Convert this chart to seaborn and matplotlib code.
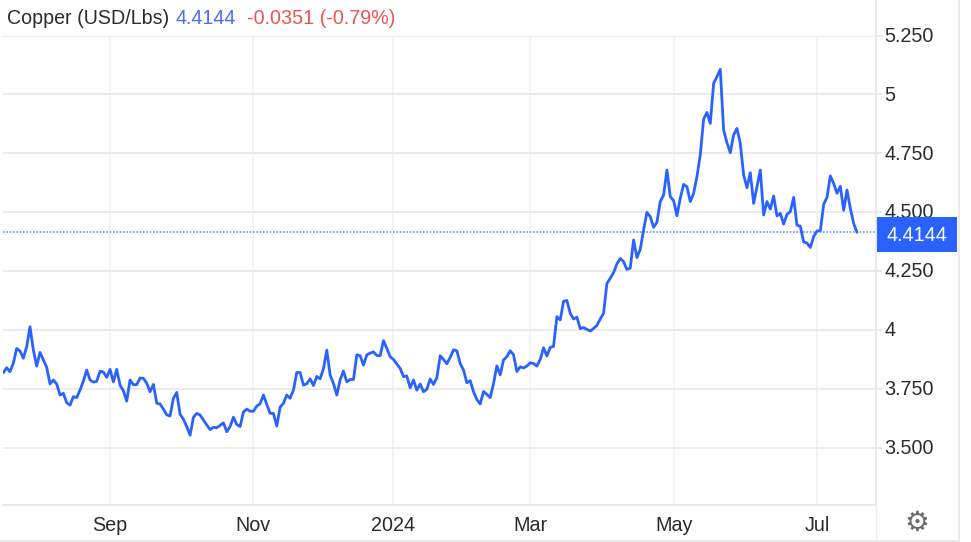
import numpy as np
import pandas as pd
import matplotlib
matplotlib.use("Agg")
import matplotlib.pyplot as plt
from matplotlib.lines import Line2D
from matplotlib.patches import Rectangle
from matplotlib.transforms import blended_transform_factory, ScaledTranslation
import seaborn as sns

# Daily copper close, USD/Lbs
prices_2023_h2 = [
    3.818, 3.839, 3.822, 3.858, 3.921, 3.910, 3.879, 3.928, 4.013, 3.914,
    3.846, 3.904, 3.872, 3.841, 3.770, 3.787, 3.770, 3.723, 3.730, 3.690,
    3.680, 3.716, 3.712, 3.744, 3.782, 3.829, 3.787, 3.778, 3.781, 3.824,
    3.821, 3.798, 3.832, 3.779, 3.832, 3.765, 3.741, 3.697, 3.787, 3.767,
    3.767, 3.795, 3.794, 3.773, 3.737, 3.768, 3.688, 3.685, 3.663, 3.639,
    3.634, 3.709, 3.734, 3.641, 3.620, 3.589, 3.552, 3.628, 3.645, 3.638,
    3.617, 3.596, 3.576, 3.586, 3.584, 3.594, 3.605, 3.567, 3.589, 3.629,
    3.598, 3.589, 3.651, 3.663, 3.654, 3.654, 3.676, 3.686, 3.723, 3.683,
    3.645, 3.645, 3.591, 3.671, 3.688, 3.723, 3.709, 3.744, 3.819, 3.819,
    3.765, 3.771, 3.792, 3.763, 3.802, 3.792, 3.835, 3.914, 3.808,
]
prices_winter = [
    3.772, 3.723, 3.787, 3.825, 3.779, 3.789, 3.789, 3.894, 3.890, 3.850,
    3.894, 3.901, 3.906, 3.891, 3.890, 3.954, 3.921, 3.886, 3.874, 3.855,
    3.836, 3.801, 3.804, 3.754, 3.787, 3.744, 3.770, 3.737, 3.747, 3.791,
    3.768, 3.796, 3.890, 3.874, 3.856, 3.883, 3.915, 3.911, 3.857, 3.829,
    3.775, 3.784, 3.737, 3.704, 3.685, 3.738, 3.726, 3.712, 3.772, 3.847,
    3.809, 3.872, 3.886, 3.911, 3.894, 3.823, 3.843, 3.838, 3.846, 3.860,
    3.857, 3.846, 3.874, 3.924, 3.889, 3.925, 3.930, 4.056, 4.042, 4.121,
    4.125, 4.070, 4.046, 4.054, 4.005, 4.010, 4.002, 3.995, 4.006, 4.019,
    4.046, 4.071, 4.197,
]
prices_spring = [
    4.219, 4.243, 4.280, 4.303, 4.290, 4.257, 4.262, 4.382, 4.307, 4.342,
    4.425, 4.499, 4.481, 4.436, 4.457, 4.545, 4.573, 4.679, 4.566, 4.549,
    4.485, 4.559, 4.618, 4.608, 4.545, 4.580, 4.651,
]
prices_summer = [
    4.743, 4.895, 4.924, 4.877, 5.047, 5.076, 5.107, 4.849, 4.795, 4.753,
    4.828, 4.856, 4.792, 4.658, 4.604, 4.668, 4.537, 4.608, 4.679, 4.488,
    4.545, 4.513, 4.569, 4.484, 4.495, 4.449, 4.491, 4.502, 4.563, 4.445,
    4.440, 4.373, 4.369, 4.350, 4.396, 4.420, 4.421, 4.533, 4.563, 4.654,
    4.622, 4.580, 4.610, 4.508, 4.594, 4.516, 4.452, 4.4144,
]
month_labels = ["Sep", "Nov", "2024", "Mar", "May", "Jul"]
month_sessions = [32, 75, 117, 158, 201, 244]
price_ticks = [3.5, 3.75, 4, 4.25, 4.5, 4.75, 5, 5.25]
price_tick_labels = ["3.500", "3.750", "4", "4.250", "4.500", "4.750", "5", "5.250"]

last_price = 4.4144
title_name = "Copper (USD/Lbs)"
title_last = "4.4144"
title_change = "-0.0351 (-0.79%)"

BLUE = "#2962ff"
TEXT = "#2b2b2b"
W, H = 971, 542

sns.set_theme(style="white")
plt.rcParams["font.family"] = ["Liberation Sans", "DejaVu Sans"]

prices = prices_2023_h2 + prices_winter + prices_spring + prices_summer
df = pd.DataFrame({"session": np.arange(len(prices)), "price": prices})

fig = plt.figure(figsize=(W / 100, H / 100), dpi=100, facecolor="white")
L, R, T, B = 3, 876, 35.5, 505
ax = fig.add_axes([L / W, 1 - B / H, (R - L) / W, (B - T) / H])

sns.lineplot(data=df, x="session", y="price", color=BLUE, linewidth=2.0,
             ax=ax, zorder=3, solid_joinstyle="round")

n = len(prices)
ax.set_xlim(-0.1, (n - 1) * (R - L) / (857 - L))
ax.set_ylim(3.2557, 5.2507)
ax.set_xlabel("")
ax.set_ylabel("")

ax.set_xticks(month_sessions, month_labels)
ax.yaxis.tick_right()
ax.set_yticks(price_ticks, price_tick_labels)
ax.set_axisbelow(True)
ax.grid(axis="y", color="#e9e9e9", linewidth=1.3)
ax.grid(axis="x", color="#eef2f7", linewidth=1.1)
ax.tick_params(axis="y", length=4, width=1.1, color="#e6e6e6", pad=2,
               labelsize=14.2, labelcolor=TEXT, right=True)
ax.tick_params(axis="x", length=0, pad=8, labelsize=14.2, labelcolor=TEXT)
for label in ax.get_yticklabels():
    label.set_transform(label.get_transform() + ScaledTranslation(0, 1.2 / 100, fig.dpi_scale_trans))

ax.spines["left"].set_visible(False)
ax.spines["top"].set_color("#eceff3")
ax.spines["top"].set_linewidth(1.0)
ax.spines["bottom"].set_color("#e6e6e6")
ax.spines["bottom"].set_linewidth(1.3)
ax.spines["right"].set_color("#e6e6e6")
ax.spines["right"].set_linewidth(1.2)

# Last-price guide and its flag on the price axis
ax.axhline(last_price, color=BLUE, linewidth=1.2, linestyle=(0, (1, 1)),
           alpha=0.7, zorder=2)
trans = blended_transform_factory(ax.transAxes, ax.transData)
flag_w = 80 / (R - L)
flag_h = 35 / 235.3
flag_x = 1 + 0.5 / (R - L)
flag_y = last_price - flag_h / 2 - 0.008
ax.add_patch(Rectangle((flag_x, flag_y), flag_w, flag_h,
                       transform=trans, facecolor=BLUE, edgecolor="none",
                       clip_on=False, zorder=5))
ax.text(flag_x + flag_w / 2, flag_y + flag_h / 2 - 0.004, title_last, transform=trans,
        color="white", fontsize=14.2, ha="center", va="center", zorder=6, clip_on=False)

# Header
def px_text(x, y, s, **kw):
    fig.text(x / W, 1 - y / H, s, **kw)

px_text(7, 24, title_name, color=TEXT, fontsize=14.1, va="baseline")
px_text(175, 24, title_last, color="#4a6cf7", fontsize=14.1, va="baseline")
px_text(247, 24, title_change, color="#ef5350", fontsize=14.2, va="baseline")

# Panel frame
fig.add_artist(Line2D([R / W, R / W], [0, 1 - B / H], color="#eeeeee", linewidth=1.0))
fig.add_artist(Line2D([R / W, R / W], [1 - T / H, 1], color="#e6e6e6", linewidth=1.2))
fig.add_artist(Line2D([959 / W, 959 / W], [0, 1], color="#e8e8e8", linewidth=1.2))
fig.add_artist(Line2D([0, 959 / W], [1 - 540.5 / H] * 2, color="#ececec", linewidth=1.5))

# Settings icon
px_text(917, 522.5, "\u2699", color="#6b6b6b", fontsize=20, ha="center", va="center",
        family="DejaVu Sans")

fig.savefig("out.png", dpi=100, facecolor="white")
